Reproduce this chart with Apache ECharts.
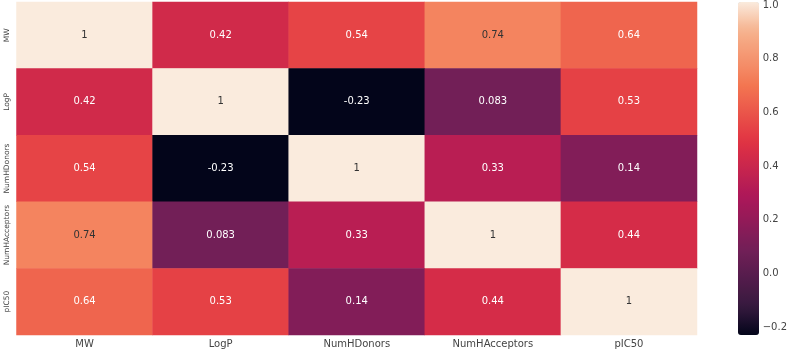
<!DOCTYPE html>
<html>
<head>
<meta charset="utf-8">
<script src="https://cdn.jsdelivr.net/npm/echarts@6/dist/echarts.min.js"></script>
<style>
  html, body { margin: 0; padding: 0; background: #fff; }
  #chart { width: 790px; height: 349px; }
</style>
</head>
<body>
<div id="chart"></div>
<script>
// variables shown on both axes, top to bottom / left to right
const labels = ['MW', 'LogP', 'NumHDonors', 'NumHAcceptors', 'pIC50'];

// correlation matrix, one row per variable
const rowMW = [1, 0.42, 0.54, 0.74, 0.64];
const rowLogP = [0.42, 1, -0.23, 0.083, 0.53];
const rowDonors = [0.54, -0.23, 1, 0.33, 0.14];
const rowAcceptors = [0.74, 0.083, 0.33, 1, 0.44];
const rowPIC50 = [0.64, 0.53, 0.14, 0.44, 1];
const rows = [rowMW, rowLogP, rowDonors, rowAcceptors, rowPIC50];

// colorbar ticks
const barTicks = [-0.2, 0, 0.2, 0.4, 0.6, 0.8, 1.0];
const vMin = -0.23, vMax = 1.0;

// seaborn "rocket" approximated by a few stops, resampled evenly for visualMap
const rocketStops = [
  [0, '#03051A'], [0.0833, '#35193E'], [0.25, '#701F57'], [0.4167, '#AD1759'],
  [0.5833, '#E13342'], [0.75, '#F37651'], [0.9167, '#F6B48F'], [1, '#FAEBDD']
];
function hex(c) { return [1, 3, 5].map(i => parseInt(c.substr(i, 2), 16)); }
function rocket(t) {
  for (let i = 1; i < rocketStops.length; i++) {
    const [p1, c1] = rocketStops[i];
    const [p0, c0] = rocketStops[i - 1];
    if (t <= p1) {
      const f = (t - p0) / (p1 - p0);
      const a = hex(c0), b = hex(c1);
      return 'rgb(' + a.map((v, k) => Math.round(v + (b[k] - v) * f)).join(',') + ')';
    }
  }
  return rocketStops[rocketStops.length - 1][1];
}
const palette = Array.from({length: 41}, (_, i) => rocket(i / 40));

const cells = [];
rows.forEach((row, r) => {
  row.forEach((v, c) => {
    cells.push({
      value: [c, r, v],
      label: { color: v > 0.7 ? '#333333' : '#ffffff' }
    });
  });
});

const font = 'DejaVu Sans';
const chart = echarts.init(document.getElementById('chart'));
chart.setOption({
  animation: false,
  textStyle: { fontFamily: font },
  grid: [
    { left: 16.5, top: 2, width: 680.5, height: 333 },
    { left: 738, top: 2, width: 21, height: 333 }
  ],
  xAxis: [
    {
      type: 'category',
      gridIndex: 0,
      data: labels,
      axisLine: { show: false },
      axisTick: { show: false },
      axisLabel: { color: '#444', fontSize: 10, margin: 4, interval: 0, fontFamily: font }
    },
    { type: 'value', gridIndex: 1, show: false }
  ],
  yAxis: [
    {
      type: 'category',
      gridIndex: 0,
      data: labels,
      inverse: true,
      axisLine: { show: false },
      axisTick: { show: false },
      axisLabel: { color: '#444', fontSize: 7.5, rotate: 90, margin: 5, interval: 0, fontFamily: font }
    },
    {
      type: 'value',
      gridIndex: 1,
      position: 'right',
      min: vMin,
      max: vMax,
      splitLine: { show: false },
      axisLine: { show: false },
      axisTick: { show: true, length: 3.5, customValues: barTicks, lineStyle: { color: '#444' } },
      axisLabel: {
        customValues: barTicks,
        color: '#444',
        fontSize: 10,
        margin: 6,
        fontFamily: font,
        formatter: v => (v < 0 ? '\u2212' : '') + Math.abs(v).toFixed(1)
      }
    }
  ],
  visualMap: {
    type: 'continuous',
    seriesIndex: 0,
    min: vMin,
    max: vMax,
    calculable: false,
    text: null,
    showLabel: false,
    orient: 'vertical',
    left: 738,
    top: 2,
    padding: 0,
    itemWidth: 21,
    itemHeight: 333,
    inRange: { color: palette }
  },
  series: [
    {
      type: 'heatmap',
      xAxisIndex: 0,
      yAxisIndex: 0,
      data: cells,
      label: {
        show: true,
        fontSize: 10,
        fontFamily: font,
        formatter: p => String(p.value[2])
      },
      emphasis: { disabled: true }
    }
  ]
});
</script>
</body>
</html>
